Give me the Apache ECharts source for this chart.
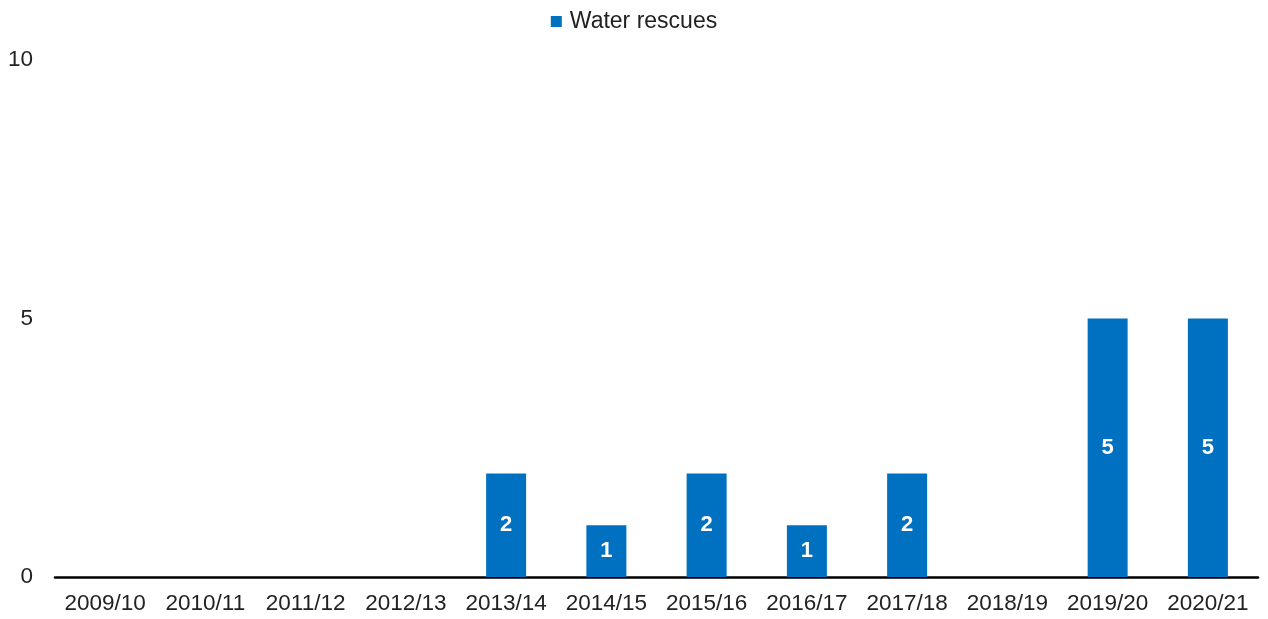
<!DOCTYPE html>
<html>
<head>
<meta charset="utf-8">
<script src="https://cdn.jsdelivr.net/npm/echarts@6/dist/echarts.min.js"></script>
<style>
	html, body { margin: 0; padding: 0; background: #fff; }
	#main { width: 1268px; height: 619px; }
</style>
</head>
<body>
<div id="main"></div>
<script>
// seasons and counts
var seasons = ['2009/10', '2010/11', '2011/12', '2012/13', '2013/14', '2014/15', '2015/16', '2016/17', '2017/18', '2018/19', '2019/20', '2020/21']
var rescues = [0, 0, 0, 0, 2, 1, 2, 1, 2, 0, 5, 5]
var yTicks = [0, 5, 10]

var font = 'Liberation Sans, Arial, sans-serif'
var myChart = echarts.init(document.getElementById('main'))
myChart.setOption({
	animation: false,
	textStyle: { fontFamily: font },
	legend: {
		top: 5,
		left: 'center',
		icon: 'rect',
		itemWidth: 11,
		itemHeight: 11,
		itemGap: 6,
		textStyle: { fontSize: 23, color: '#222', fontFamily: font, padding: [0, 0, 0, 3] },
		data: ['Water rescues']
	},
	grid: { left: 55, right: 10, top: 60, bottom: 42 },
	xAxis: {
		type: 'category',
		data: seasons,
		axisTick: { show: false },
		axisLine: { lineStyle: { color: '#000', width: 2.5 } },
		axisLabel: { fontSize: 22.5, color: '#222', margin: 15, interval: 0 }
	},
	yAxis: {
		type: 'value',
		min: yTicks[0],
		max: yTicks[yTicks.length - 1],
		interval: 5,
		axisLine: { show: false },
		axisTick: { show: false },
		splitLine: { show: false },
		axisLabel: { fontSize: 22.5, color: '#222', margin: 22 }
	},
	series: [{
		name: 'Water rescues',
		type: 'bar',
		data: rescues,
		barWidth: 40,
		itemStyle: { color: '#0070C0' },
		label: {
			show: true,
			position: 'inside',
			color: '#fff',
			fontWeight: 'bold',
			fontSize: 22,
			formatter: function (p) { return p.value > 0 ? p.value : '' }
		}
	}]
})
</script>
</body>
</html>
